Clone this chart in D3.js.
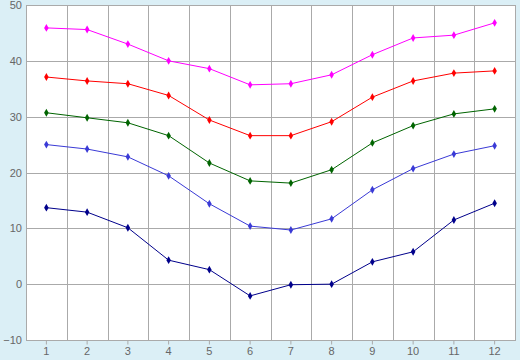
<!DOCTYPE html>
<html>
<head>
<meta charset="utf-8">
<script src="https://cdn.jsdelivr.net/npm/d3@7"></script>
<style>
  body { margin: 0; background: #dbeff6; }
  svg { display: block; }
</style>
</head>
<body>
<div id="chart"></div>
<script>
const months = [1, 2, 3, 4, 5, 6, 7, 8, 9, 10, 11, 12];
const yTicks = [-10, 0, 10, 20, 30, 40, 50];

const magenta = [45.9, 45.6, 43.0, 40.0, 38.6, 35.7, 35.9, 37.5, 41.1, 44.1, 44.6, 46.8];
const red = [37.1, 36.4, 35.9, 33.8, 29.4, 26.6, 26.6, 29.1, 33.5, 36.4, 37.8, 38.2];
const green = [30.7, 29.8, 28.9, 26.6, 21.7, 18.5, 18.1, 20.5, 25.3, 28.4, 30.5, 31.4];
const blue = [25.0, 24.2, 22.8, 19.4, 14.4, 10.4, 9.7, 11.7, 16.9, 20.7, 23.3, 24.8];
const navy = [13.7, 12.9, 10.1, 4.3, 2.6, -2.1, -0.1, 0.0, 4.0, 5.8, 11.5, 14.5];

const series = [
  { values: navy, color: "#00008b" },
  { values: blue, color: "#3a3ad6" },
  { values: green, color: "#006400" },
  { values: red, color: "#ff0000" },
  { values: magenta, color: "#ff00ff" }
];

const width = 520;
const height = 360;
const margin = { top: 5, right: 5, bottom: 20, left: 26 };

const svg = d3.select("#chart")
  .append("svg")
  .attr("width", width)
  .attr("height", height)
  .style("font-family", "DejaVu Sans, sans-serif");

svg.append("rect")
  .attr("width", width)
  .attr("height", height)
  .attr("fill", "#dbeff6");

const x = d3.scaleBand()
  .domain(months)
  .range([margin.left, width - margin.right]);

const y = d3.scaleLinear()
  .domain([-10, 50])
  .range([height - margin.bottom, margin.top]);

const cx = d => x(d) + x.bandwidth() / 2;

// plot area
svg.append("rect")
  .attr("x", margin.left + 0.5)
  .attr("y", margin.top + 0.5)
  .attr("width", width - margin.left - margin.right)
  .attr("height", height - margin.top - margin.bottom)
  .attr("fill", "#fff")
  .attr("stroke", "#aaa");

// grid
svg.append("g")
  .attr("stroke", "#aaa")
  .selectAll("line.h")
  .data(yTicks.slice(1, -1))
  .join("line")
    .attr("x1", margin.left)
    .attr("x2", width - margin.right)
    .attr("y1", d => Math.round(y(d)) + 0.5)
    .attr("y2", d => Math.round(y(d)) + 0.5);

svg.append("g")
  .attr("stroke", "#aaa")
  .selectAll("line")
  .data(months.slice(1))
  .join("line")
    .attr("x1", d => Math.round(x(d)) + 0.5)
    .attr("x2", d => Math.round(x(d)) + 0.5)
    .attr("y1", margin.top)
    .attr("y2", height - margin.bottom);

// axes
const xAxis = svg.append("g")
  .attr("transform", `translate(0,${height - margin.bottom + 0.5})`)
  .call(d3.axisBottom(x).tickSize(4).tickSizeOuter(0).tickPadding(3));
xAxis.select(".domain").remove();

const yAxis = svg.append("g")
  .attr("transform", `translate(${margin.left},0)`)
  .call(d3.axisLeft(y).tickValues(yTicks).tickSize(0).tickPadding(4));
yAxis.select(".domain").remove();

svg.selectAll(".tick line").attr("stroke", "#aaa");
svg.selectAll(".tick text")
  .attr("fill", "#666")
  .style("font-size", "11px");

// lines
const line = d3.line()
  .x((d, i) => cx(months[i]))
  .y(d => y(d));

const marker = d3.symbol().type(d3.symbolDiamond).size(18);

series.forEach(s => {
  svg.append("path")
    .datum(s.values)
    .attr("fill", "none")
    .attr("stroke", s.color)
    .attr("stroke-width", 1)
    .attr("d", line);

  svg.append("g")
    .attr("fill", s.color)
    .selectAll("path")
    .data(s.values)
    .join("path")
      .attr("transform", (d, i) => `translate(${cx(months[i])},${y(d)})`)
      .attr("d", marker);
});
</script>
</body>
</html>
